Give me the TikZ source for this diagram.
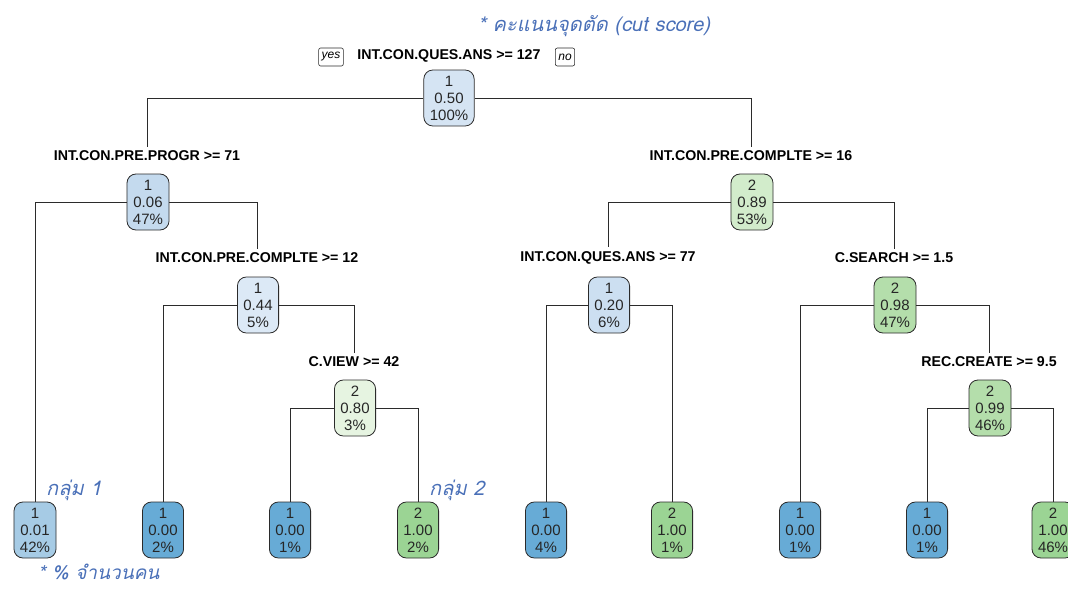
\documentclass[tikz,border=0pt]{standalone}
\usepackage{fontspec}
\setmainfont{Liberation Sans}
\newfontfamily\thaifont[Script=Thai,FakeSlant=0.22]{Loma}
\definecolor{edgec}{HTML}{2B2B2B}
\definecolor{annc}{HTML}{4A70B8}
\definecolor{bA}{HTML}{D5E4F3}
\definecolor{bB}{HTML}{C4DAEE}
\definecolor{bC}{HTML}{DCE9F6}
\definecolor{bD}{HTML}{CCDFF1}
\definecolor{bE}{HTML}{A6CBE5}
\definecolor{bF}{HTML}{67ABD6}
\definecolor{gA}{HTML}{E6F4E1}
\definecolor{gB}{HTML}{D2ECCB}
\definecolor{gC}{HTML}{B4DEAB}
\definecolor{gD}{HTML}{9BD494}
\usetikzlibrary{positioning}
\tikzset{
  nd/.style={draw=edgec, line width=0.8pt, rounded corners=9pt, fill=#1,
    minimum width=41pt, minimum height=56pt, inner xsep=6pt, inner ysep=2pt,
    align=center, text=black!85, font=\fontsize{15}{17}\selectfont},
  lab/.style={font=\bfseries\fontsize{14.2}{15}\selectfont, inner sep=4pt},
  yn/.style={draw=edgec, line width=0.6pt, rounded corners=2pt, inner xsep=3pt, inner ysep=2pt,
    font=\itshape\fontsize{12}{13}\selectfont, minimum height=18pt},
  ed/.style={draw=edgec, line width=0.9pt},
  ann/.style={text=annc, font=\thaifont\fontsize{20}{22}\selectfont, inner sep=0pt}
}
\begin{document}
\begin{tikzpicture}[x=1pt,y=-1pt]
\useasboundingbox (0,0) rectangle (1068,589);
\clip (0,0) rectangle (1068,589);
% split labels
\node[lab] (l1) at (449,56) {INT.CON.QUES.ANS >= 127};
\node[yn] (yes) at (331,57) {yes};
\node[yn] (no) at (565,57) {no};
\node[lab] (l2) at (147,156) {INT.CON.PRE.PROGR >= 71};
\node[lab] (l3) at (751,156) {INT.CON.PRE.COMPLTE >= 16};
\node[lab] (l5) at (257,258) {INT.CON.PRE.COMPLTE >= 12};
\node[lab] (l6) at (608,258) {INT.CON.QUES.ANS >= 77};
\node[lab] (l7) at (894,258) {C.SEARCH >= 1.5};
\node[lab] (l11) at (354,362) {C.VIEW >= 42};
\node[lab] (l15) at (989,362) {REC.CREATE >= 9.5};
% internal nodes
\node[nd=bA, minimum width=50pt] (n1) at (449,98) {1\\0.50\\100\%};
\node[nd=bB] (n2) at (148,202) {1\\0.06\\47\%};
\node[nd=gB] (n3) at (752,202) {2\\0.89\\53\%};
\node[nd=bC] (n5) at (258,305) {1\\0.44\\5\%};
\node[nd=bD] (n6) at (609,305) {1\\0.20\\6\%};
\node[nd=gC] (n7) at (895,305) {2\\0.98\\47\%};
\node[nd=gA] (n11) at (355,408) {2\\0.80\\3\%};
\node[nd=gC] (n15) at (990,408) {2\\0.99\\46\%};
% leaves
\node[nd=bE] (k1) at (35,530) {1\\0.01\\42\%};
\node[nd=bF] (k2) at (163,530) {1\\0.00\\2\%};
\node[nd=bF] (k3) at (290,530) {1\\0.00\\1\%};
\node[nd=gD] (k4) at (418,530) {2\\1.00\\2\%};
\node[nd=bF] (k5) at (546,530) {1\\0.00\\4\%};
\node[nd=gD] (k6) at (672,530) {2\\1.00\\1\%};
\node[nd=bF] (k7) at (800,530) {1\\0.00\\1\%};
\node[nd=bF] (k8) at (927,530) {1\\0.00\\1\%};
\node[nd=gD] (k9) at (1053,530) {2\\1.00\\46\%};
% connectors
\draw[ed] (n1.west) -| (l2.north);
\draw[ed] (n1.east) -| (l3.north);
\draw[ed] (n2.west) -| (k1.north);
\draw[ed] (n2.east) -| (l5.north);
\draw[ed] (n5.west) -| (k2.north);
\draw[ed] (n5.east) -| (l11.north);
\draw[ed] (n11.west) -| (k3.north);
\draw[ed] (n11.east) -| (k4.north);
\draw[ed] (n3.west) -| (l6.north);
\draw[ed] (n3.east) -| (l7.north);
\draw[ed] (n6.west) -| (k5.north);
\draw[ed] (n6.east) -| (k6.north);
\draw[ed] (n7.west) -| (k7.north);
\draw[ed] (n7.east) -| (l15.north);
\draw[ed] (n15.west) -| (k8.north);
\draw[ed] (n15.east) -| (k9.north);
% annotations
\node[ann, anchor=west] (a1) at (478,26) {* คะแนนจุดตัด (cut score)};
\node[ann, anchor=west] (a2) at (46,490) {กลุ่ม 1};
\node[ann, anchor=west] (a3) at (429,490) {กลุ่ม 2};
\node[ann, anchor=west, font=\thaifont\fontsize{19}{21}\selectfont] (a4) at (38,572) {* \% จำนวนคน};
\end{tikzpicture}
\end{document}
